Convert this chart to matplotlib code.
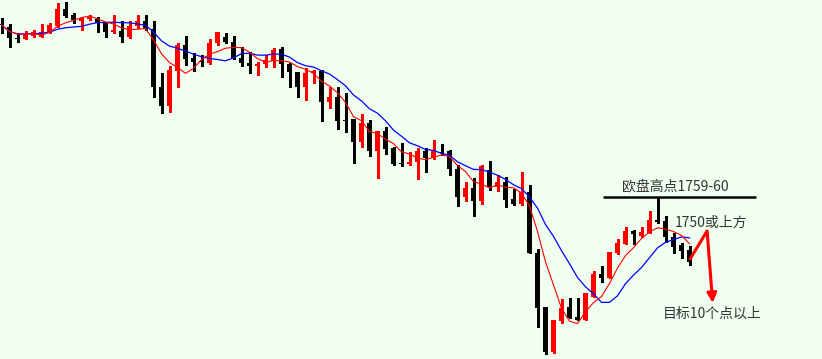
import numpy as np
import pandas as pd
import matplotlib
matplotlib.use("Agg")
import matplotlib.pyplot as plt

plt.rcParams['font.family'] = ['Noto Sans CJK SC', 'DejaVu Sans']

# candles (index -1 is the one cut by the left edge)
opens = [1845.5, 1844.5, 1839, 1838.5, 1840, 1839.5, 1842, 1845, 1853.5, 1850.5, 1847.5,
         1848.5, 1848.5, 1846.5, 1842, 1842.5, 1839.5, 1845, 1847.5, 1843.5, 1814.5,
         1805, 1822.5, 1835.5, 1829, 1827.5, 1826.5, 1836.5, 1839.5, 1837, 1829,
         1826.5, 1825, 1826, 1827.5, 1833.5, 1826, 1822, 1814.5, 1821.5, 1822.5,
         1807, 1809.5, 1798, 1798.5, 1787, 1796.5, 1782.5, 1792.5, 1784, 1776.5,
         1776, 1777, 1782.5, 1779, 1782, 1782.5, 1773.5, 1759.5, 1764, 1757.5,
         1773, 1764.5, 1767, 1758.5, 1756, 1762, 1731.5, 1704.5, 1682, 1697.5,
         1704.5, 1699.5, 1698, 1709.5, 1721, 1719, 1731.5, 1736, 1742.5, 1740,
         1741.5, 1748, 1747.5, 1739.5, 1735.5, 1733]
highs = [1849, 1846, 1841.5, 1842.5, 1843, 1846, 1846.5, 1856.5, 1857, 1851.5, 1849,
         1850.5, 1849.5, 1847, 1850.5, 1847.5, 1847.5, 1850.5, 1850.5, 1847.5, 1821.5,
         1825, 1836.5, 1840, 1831.5, 1830.5, 1838.5, 1842, 1841.5, 1840, 1834.5,
         1832, 1827, 1830.5, 1834, 1834.5, 1826.5, 1822, 1824, 1823, 1823,
         1814.5, 1814.5, 1811.5, 1798.5, 1801, 1798, 1792.5, 1794.5, 1784.5, 1786.5,
         1782, 1784, 1784, 1788, 1786, 1783, 1775.5, 1767, 1769, 1775.5,
         1777.5, 1770.5, 1769.5, 1763.5, 1772, 1765.5, 1733.5, 1704.5, 1698, 1708.5,
         1709, 1709, 1711.5, 1722.5, 1725, 1732, 1738.5, 1744.5, 1743, 1744.5,
         1752.5, 1759.5, 1750, 1741.5, 1736.5, 1735]
lows = [1841.5, 1834.5, 1837, 1838.5, 1839.5, 1839.5, 1841.5, 1844.5, 1849.5, 1846.5, 1843,
        1848, 1842, 1839.5, 1841.5, 1837, 1839, 1844, 1843, 1809.5, 1801.5,
        1802, 1814.5, 1825.5, 1822.5, 1825, 1826, 1835.5, 1836.5, 1828.5, 1825,
        1821.5, 1820.5, 1824.5, 1824.5, 1819.5, 1814.5, 1809.5, 1808, 1816.5, 1797.5,
        1804, 1793.5, 1792, 1776.5, 1784.5, 1780, 1769, 1781, 1775.5, 1775,
        1775.5, 1768.5, 1772, 1778.5, 1780.5, 1770.5, 1755, 1757.5, 1750, 1756,
        1763, 1762.5, 1754.5, 1755.5, 1755.5, 1731.5, 1694.5, 1681, 1681.5, 1696.5,
        1699, 1698, 1698, 1709.5, 1717, 1719, 1731, 1736, 1736, 1739.5,
        1741.5, 1746.5, 1737, 1731.5, 1729, 1725.5]
closes = [1845.5, 1839, 1838.5, 1841, 1842, 1842, 1845.5, 1853.5, 1850, 1848, 1849,
          1849.5, 1846.5, 1842, 1843, 1839.5, 1845, 1847.5, 1843.5, 1814.5, 1805,
          1823, 1835.5, 1828.5, 1827, 1827, 1836.5, 1842, 1837, 1829, 1826.5,
          1825, 1826, 1828, 1833, 1826, 1822, 1814.5, 1821.5, 1822.5, 1807,
          1809.5, 1797.5, 1797.5, 1787, 1796.5, 1782.5, 1792.5, 1783.5, 1776, 1776,
          1777, 1782.5, 1779, 1782.5, 1781.5, 1773.5, 1759.5, 1764, 1757.5, 1775,
          1764.5, 1767, 1758, 1756, 1762, 1731.5, 1704, 1682, 1698, 1704,
          1699, 1698, 1711.5, 1721, 1719, 1732, 1736.5, 1742.5, 1741, 1742,
          1748, 1747, 1739.5, 1734.5, 1732.5, 1727]

euro_high = 1759.5
arrow_path = [(85, 1728), (87.2, 1742.5), (87.9, 1706.5)]

idx = np.arange(-1, len(opens) - 1)
df = pd.DataFrame({'o': opens, 'h': highs, 'l': lows, 'c': closes}, index=idx)
ma5 = df['c'].rolling(5, min_periods=1).mean()
ma10 = df['c'].rolling(10, min_periods=1).mean()

fig = plt.figure(figsize=(8.22, 3.59), dpi=100, facecolor='#F0FFF0')
ax = fig.add_axes([0, 0, 1, 1])
ax.set_facecolor('#F0FFF0')
ax.axis('off')

up = df['c'] > df['o']
col = np.where(up, '#FF0000', '#000000')
ax.vlines(df.index, df['l'], df['h'], colors=col, lw=0.75, antialiased=False, zorder=2)
body_h = np.maximum((df['c'] - df['o']).abs(), 0.5)
body_b = np.minimum(df['c'], df['o'])
ax.bar(df.index, body_h, bottom=body_b, width=0.66, color=col, lw=0, antialiased=False, zorder=3)

ax.plot(df.index, ma10, color='#0000FF', lw=0.9, zorder=4)
ax.plot(df.index, ma5, color='#FF0000', lw=0.8, zorder=5)

# annotations
ax.hlines(euro_high, 74.2, 93.3, color='#000000', lw=1.8, zorder=6)
ax.text(76.6, euro_high + 5.5, '欧盘高点1759-60', fontsize=10, color='#333333',
        ha='left', va='center')
ax.text(83.2, 1746.5, '1750或上方', fontsize=10, color='#333333', ha='left', va='center')
ax.text(81.7, 1701, '目标10个点以上', fontsize=10, color='#333333', ha='left', va='center')

ax.plot([arrow_path[0][0], arrow_path[1][0]], [arrow_path[0][1], arrow_path[1][1]],
        color='#FF0000', lw=2.2, solid_capstyle='butt', zorder=7)
ax.annotate('', xy=arrow_path[2], xytext=arrow_path[1],
            arrowprops=dict(arrowstyle='-|>', color='#FF0000', lw=2.2,
                            mutation_scale=14, shrinkA=0, shrinkB=0), zorder=7)

ax.set_xlim((0 - 9.5) / 8, (822 - 9.5) / 8)
ax.set_ylim(1858 - 359 / 2, 1858)

fig.savefig('out.png', dpi=100, facecolor=fig.get_facecolor())
